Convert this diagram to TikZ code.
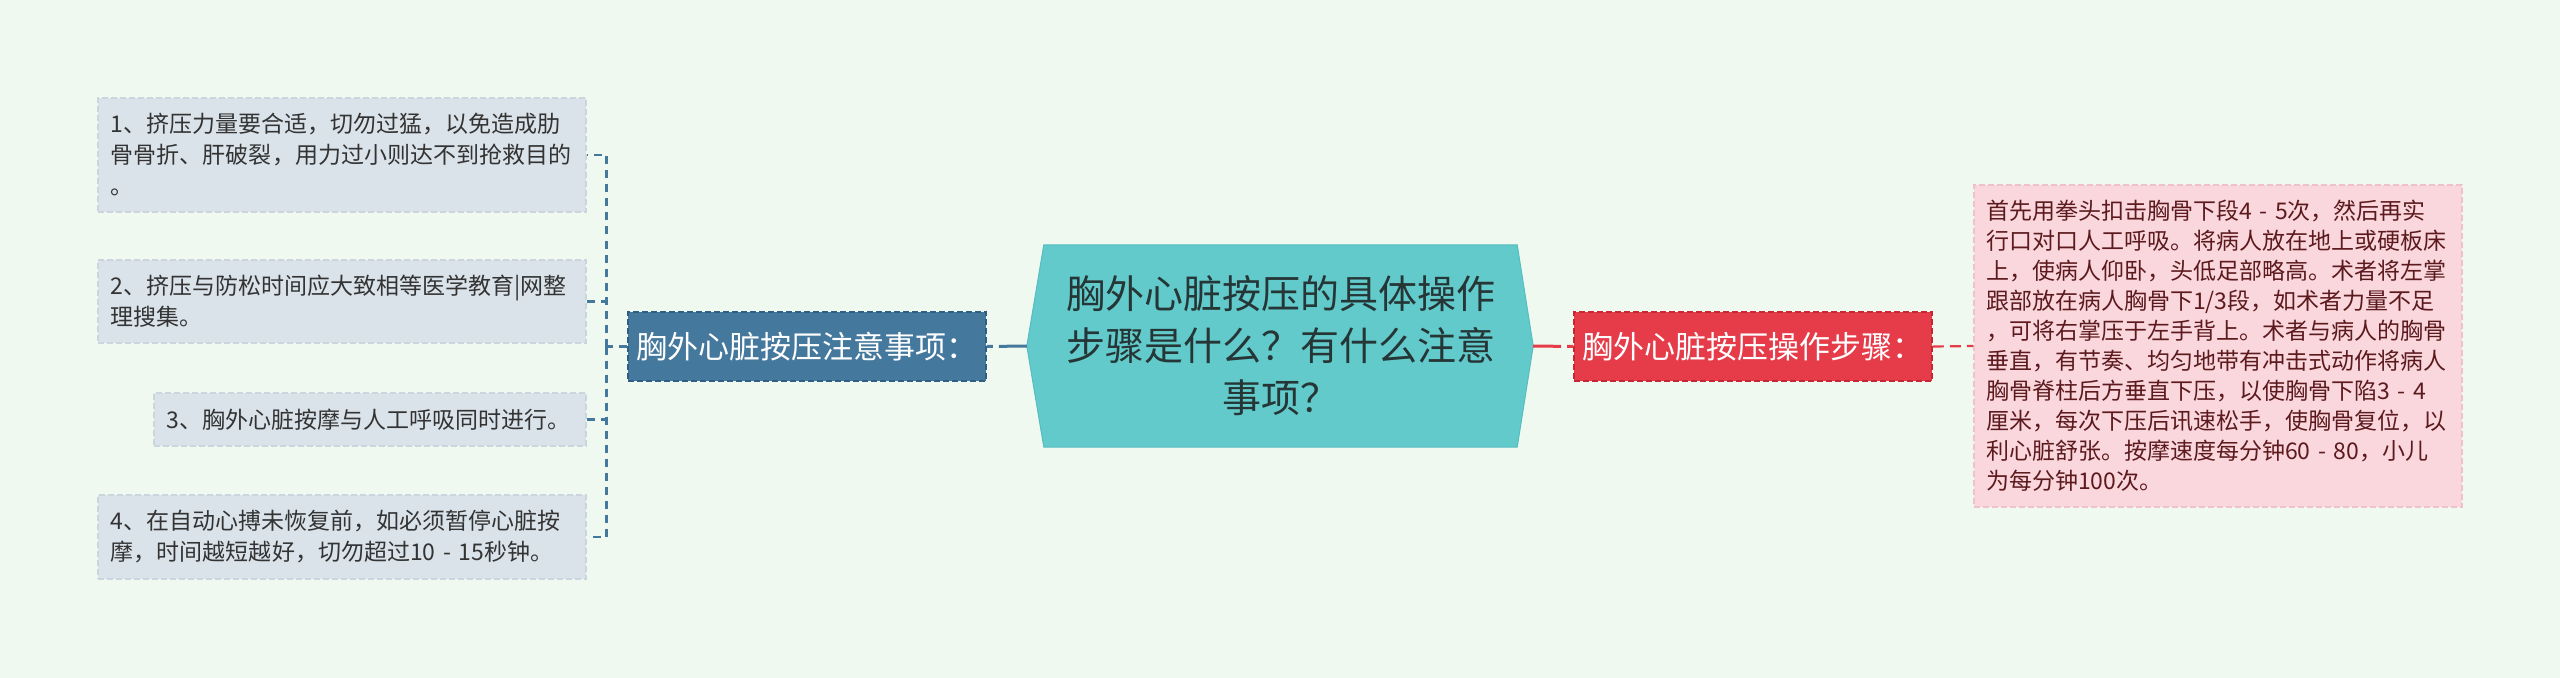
\documentclass[tikz,border=0pt]{standalone}
\usepackage{fontspec}
\setmainfont{Noto Sans CJK SC}
\usepackage{xcolor}
\usepackage{tikz}
\usetikzlibrary{
    calc,
    positioning
}
\definecolor{bgmint}{HTML}{F0F9EF}
\definecolor{qteal}{HTML}{62CACB}
\definecolor{qtealdark}{HTML}{56BEC0}
\definecolor{qtext}{HTML}{263636}
\definecolor{bluefill}{HTML}{45789D}
\definecolor{blueline}{HTML}{2F5F82}
\definecolor{redfill}{HTML}{E63C4A}
\definecolor{redline}{HTML}{C52734}
\definecolor{leaffill}{HTML}{DAE3EA}
\definecolor{leafline}{HTML}{CAD5DE}
\definecolor{leaftext}{HTML}{333333}
\definecolor{pinkfill}{HTML}{F9D7DC}
\definecolor{pinkline}{HTML}{EFC2C9}
\definecolor{pinktext}{HTML}{5C1A1E}
\pgfdeclarelayer{bg}
\pgfsetlayers{bg,main}
\tikzset{
    topic/.style={minimum width=473bp, minimum height=202bp, inner sep=0pt,
        align=center, text=qtext, font=\fontsize{39bp}{52bp}\selectfont},
    branch/.style={draw, dash pattern=on 6bp off 3bp, line width=1.5bp,
        minimum width=358bp, minimum height=69bp, inner sep=0pt,
        text=white, font=\fontsize{31bp}{36bp}\selectfont},
    leaf/.style={fill=leaffill, draw=leafline, dash pattern=on 6bp off 3bp,
        line width=1.5bp, inner xsep=13bp, inner ysep=0pt, text width=462bp,
        align=left, text=leaftext, font=\fontsize{23bp}{31bp}\selectfont},
    detail/.style={fill=pinkfill, draw=pinkline, dash pattern=on 6bp off 3bp,
        line width=1.5bp, inner xsep=12bp, inner ysep=0pt, text width=464bp,
        minimum height=322bp, align=left, text=pinktext,
        font=\fontsize{23bp}{30bp}\selectfont},
    bluelink/.style={draw=bluefill, line width=2.6bp, dash pattern=on 8bp off 6bp},
    redlink/.style={draw=redfill, line width=2.2bp, dash pattern=on 11bp off 6bp},
}

\begin{document}
\begin{tikzpicture}[x=1bp, y=-1bp]
    \node[topic] (q) at (1280.5,346) {胸外心脏按压的具体操作\\步骤是什么？有什么注意\\事项？};
    \coordinate (qw) at ([xshift=-17bp]q.west);
    \coordinate (qe) at ([xshift=16bp]q.east);
    \begin{pgfonlayer}{bg}
        \fill[bgmint] (0,0) rectangle (2560,678);
        \filldraw[fill=qteal, draw=qtealdark, line width=1bp]
            (q.north west) -- (q.north east) -- (qe) -- (q.south east)
            -- (q.south west) -- (qw) -- cycle;
    \end{pgfonlayer}

    \node[branch, fill=bluefill, draw=blueline] (nb) at (807,346.5) {胸外心脏按压注意事项：};
    \node[branch, fill=redfill, draw=redline] (nr) at (1753,346.5) {胸外心脏按压操作步骤：};

    \node[leaf, minimum height=114bp] (l1) at (342,155)
        {1、挤压力量要合适，切勿过猛，以免造成肋\\
         骨骨折、肝破裂，用力过小则达不到抢救目的\\
         。};
    \node[leaf, minimum height=83bp] (l2) at (342,301.5)
        {2、挤压与防松时间应大致相等医学教育|网整\\
         理搜集。};
    \node[leaf, minimum height=53bp, text width=406bp] (l3) at (370,419.5)
        {3、胸外心脏按摩与人工呼吸同时进行。};
    \node[leaf, minimum height=84bp] (l4) at (342,537)
        {4、在自动心搏未恢复前，如必须暂停心脏按\\
         摩，时间越短越好，切勿超过10 - 15秒钟。};

    \node[detail] (np) at (2218,346)
        {首先用拳头扣击胸骨下段4 - 5次，然后再实\\
         行口对口人工呼吸。将病人放在地上或硬板床\\
         上，使病人仰卧，头低足部略高。术者将左掌\\
         跟部放在病人胸骨下1/3段，如术者力量不足\\
         ，可将右掌压于左手背上。术者与病人的胸骨\\
         垂直，有节奏、均匀地带有冲击式动作将病人\\
         胸骨脊柱后方垂直下压，以使胸骨下陷3 - 4\\
         厘米，每次下压后讯速松手，使胸骨复位，以\\
         利心脏舒张。按摩速度每分钟60 - 80，小儿\\
         为每分钟100次。};

    \draw[bluelink, line width=3bp, dash pattern=on 28bp off 6bp] (qw) -- (nb.east);
    \coordinate (jl) at ([xshift=-21bp]nb.west);
    \draw[bluelink] (nb.west) -- (jl);
    \foreach \l in {l1,l2,l3,l4}
        \draw[bluelink] (jl) |- (\l.east);

    \draw[redlink, line width=3bp, dash pattern=on 28bp off 6bp] (qe) -- (nr.west);
    \draw[redlink] (nr.east) -- (np.west);
\end{tikzpicture}
\end{document}
